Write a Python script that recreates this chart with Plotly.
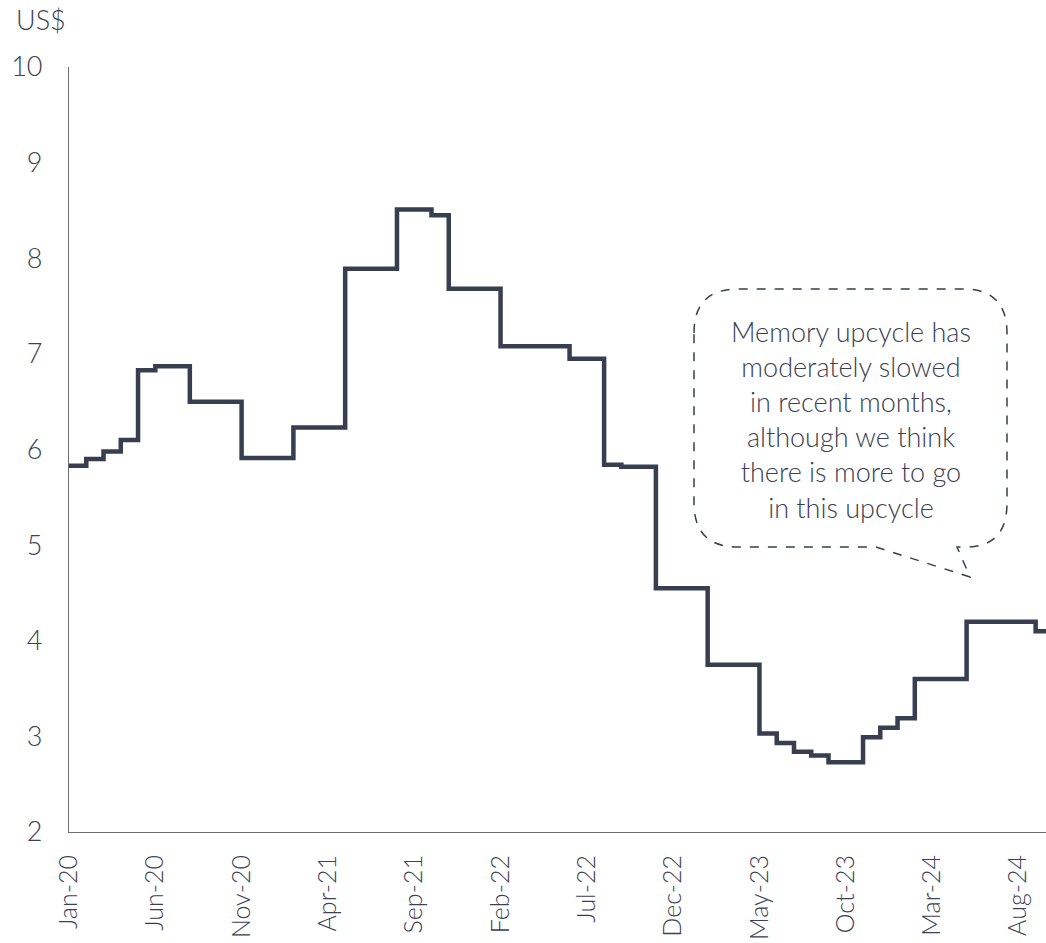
import pandas as pd
import plotly.graph_objects as go

# Monthly price series, Jan-2020 .. Oct-2024 (US$)
months = pd.date_range("2020-01-01", "2024-10-01", freq="MS").strftime("%b-%y").tolist()

price_2020 = [5.83, 5.90, 5.98, 6.10, 6.83, 6.87, 6.87, 6.50, 6.50, 6.50, 5.91, 5.91]
price_2021 = [5.91, 6.23, 6.23, 6.23, 7.89, 7.89, 7.89, 8.51, 8.51, 8.45, 7.68, 7.68]
price_2022 = [7.68, 7.08, 7.08, 7.08, 7.08, 6.95, 6.95, 5.84, 5.82, 5.82, 4.55, 4.55]
price_2023 = [4.55, 3.75, 3.75, 3.75, 3.03, 2.93, 2.84, 2.80, 2.73, 2.73, 2.99, 3.09]
price_2024 = [3.19, 3.60, 3.60, 3.60, 4.20, 4.20, 4.20, 4.20, 4.10, 4.10]
prices = price_2020 + price_2021 + price_2022 + price_2023 + price_2024

tick_labels = ["Jan-20", "Jun-20", "Nov-20", "Apr-21", "Sep-21", "Feb-22",
               "Jul-22", "Dec-22", "May-23", "Oct-23", "Mar-24", "Aug-24"]
y_ticks = [2, 3, 4, 5, 6, 7, 8, 9, 10]

callout_lines = ["Memory upcycle has", "moderately slowed", "in recent months,",
                 "although we think", "there is more to go", "in this upcycle"]

INK = "#373e4f"
TEXT = "#3b4152"
FONT = "Lato"

W, H = 1046, 943
M_L, M_R, M_T, M_B = 69, 0, 67, 111
PW, PH = W - M_L - M_R, H - M_T - M_B


def px(x):
    return (x - M_L) / PW


def py(y):
    return (H - M_B - y) / PH


fig = go.Figure()
fig.add_trace(go.Scatter(
    x=months, y=prices, mode="lines", line=dict(color=INK, width=4.5, shape="hv"),
    hoverinfo="skip", showlegend=False,
))

# dashed speech bubble
L, R, T, B = 694, 1007, 289, 547
r = 44
tip = (970, 577)
path = (
    f"M {px(L)},{py(T + r)} "
    f"Q {px(L)},{py(T)} {px(L + r)},{py(T)} "
    f"L {px(R - r)},{py(T)} "
    f"Q {px(R)},{py(T)} {px(R)},{py(T + r)} "
    f"L {px(R)},{py(B - r)} "
    f"Q {px(R)},{py(B)} {px(966)},{py(B)} "
    f"L {px(957)},{py(B)} "
    f"L {px(tip[0])},{py(tip[1])} "
    f"L {px(876)},{py(B)} "
    f"L {px(L + r)},{py(B)} "
    f"Q {px(L)},{py(B)} {px(L)},{py(B - r)} Z"
)
fig.add_shape(type="path", path=path, xref="paper", yref="paper",
              line=dict(color=INK, width=1.5, dash="dash"))

fig.add_annotation(
    text="<br>".join(callout_lines), xref="paper", yref="paper",
    x=px(851), y=py(419), xanchor="center", yanchor="middle",
    showarrow=False, align="center",
    font=dict(family=FONT, size=27, color=TEXT, weight=300),
)

fig.add_annotation(
    text="US$", xref="paper", yref="paper", x=px(14), y=py(19),
    xanchor="left", yanchor="middle", showarrow=False,
    font=dict(family=FONT, size=27, color=TEXT, weight=300),
)

fig.update_xaxes(
    type="category", range=[0, len(months) - 1.4],
    tickmode="array", tickvals=tick_labels, ticktext=tick_labels, tickangle=-90,
    showgrid=False, zeroline=False, showline=True, linecolor="#6b6e76", linewidth=1.2,
    ticks="", ticklabelstandoff=12,
    tickfont=dict(family=FONT, size=25, color=TEXT, weight=300),
)
fig.update_yaxes(
    range=[2, 10], tickmode="array", tickvals=y_ticks,
    showgrid=False, zeroline=False, showline=True, linecolor="#6b6e76", linewidth=1.2,
    ticks="", ticklabelstandoff=20,
    tickfont=dict(family=FONT, size=27, color=TEXT, weight=300),
)
fig.update_layout(
    width=W, height=H, margin=dict(l=M_L, r=M_R, t=M_T, b=M_B),
    paper_bgcolor="white", plot_bgcolor="white",
    font=dict(family=FONT, color=TEXT),
)

fig.write_html("out.html")
